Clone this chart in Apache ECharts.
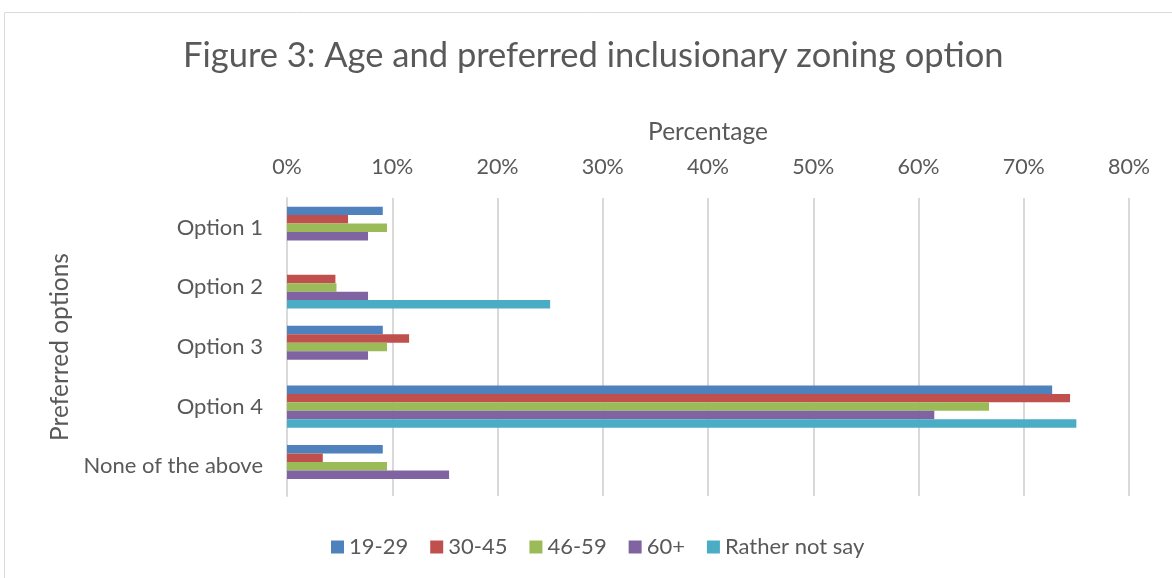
<!DOCTYPE html>
<html>
<head>
<meta charset="utf-8">
<script src="https://cdn.jsdelivr.net/npm/echarts@6/dist/echarts.min.js"></script>
<style>
  html, body { margin: 0; padding: 0; background: #fff; }
  #main { width: 1172px; height: 578px; }
</style>
</head>
<body>
<div id="main"></div>
<script>
  var categories = ['Option 1', 'Option 2', 'Option 3', 'Option 4', 'None of the above'];
  var tickLabels = ['0%', '10%', '20%', '30%', '40%', '50%', '60%', '70%', '80%'];
  var seriesNames = ['19-29', '30-45', '46-59', '60+', 'Rather not say'];
  var age19to29 = [9.1, 0, 9.1, 72.7, 9.1];
  var age30to45 = [5.8, 4.6, 11.6, 74.4, 3.4];
  var age46to59 = [9.5, 4.7, 9.5, 66.7, 9.5];
  var age60plus = [7.7, 7.7, 7.7, 61.5, 15.4];
  var ratherNotSay = [0, 25, 0, 75, 0];

  var colors = ['#4F81BD', '#C0504D', '#9BBB59', '#8064A2', '#4BACC6'];
  var values = [age19to29, age30to45, age46to59, age60plus, ratherNotSay];
  var font = 'Lato, "Open Sans", sans-serif';
  var textColor = '#595959';

  var myChart = echarts.init(document.getElementById('main'));

  var series = seriesNames.map(function (name, i) {
    return {
      name: name,
      type: 'bar',
      data: values[i],
      barGap: '0%',
      barCategoryGap: '29%',
      itemStyle: { color: colors[i] }
    };
  });

  var opt = {
    color: colors,
    textStyle: { fontFamily: font, color: textColor },
    title: {
      text: 'Figure 3: Age and preferred inclusionary zoning option',
      left: 178,
      top: 33,
      textStyle: { fontFamily: font, fontSize: 34.5, fontWeight: 'normal', color: textColor }
    },
    legend: {
      data: seriesNames,
      bottom: 15,
      left: 326,
      itemWidth: 13,
      itemHeight: 13,
      itemGap: 22,
      icon: 'rect',
      textStyle: { fontFamily: font, fontSize: 22, color: textColor }
    },
    grid: {
      left: 287,
      right: 43,
      top: 198,
      bottom: 82
    },
    xAxis: {
      type: 'value',
      position: 'top',
      min: 0,
      max: 80,
      interval: 10,
      name: 'Percentage',
      nameLocation: 'middle',
      nameGap: 53,
      nameTextStyle: { fontFamily: font, fontSize: 24.5, color: textColor },
      axisLine: { show: false },
      axisTick: { show: false },
      axisLabel: {
        margin: 20,
        fontFamily: font,
        fontSize: 21.5,
        color: textColor,
        formatter: function (v) { return tickLabels[Math.round(v / 10)]; }
      },
      splitLine: { lineStyle: { color: '#d9d9d9', width: 2 } }
    },
    yAxis: {
      type: 'category',
      data: categories,
      inverse: true,
      name: 'Preferred options',
      nameLocation: 'middle',
      nameGap: 212,
      nameRotate: 90,
      nameTextStyle: { fontFamily: font, fontSize: 24.5, color: textColor },
      axisLine: { show: true, lineStyle: { color: '#d9d9d9', width: 2 } },
      axisTick: { show: false },
      axisLabel: { margin: 24, fontFamily: font, fontSize: 22, color: textColor }
    },
    graphic: [{
      type: 'rect',
      shape: { x: 4.5, y: 12.5, width: 1200, height: 620 },
      style: { fill: 'none', stroke: '#d9d9d9', lineWidth: 1 },
      silent: true
    }],
    series: series
  };

  myChart.setOption(opt);
</script>
</body>
</html>
